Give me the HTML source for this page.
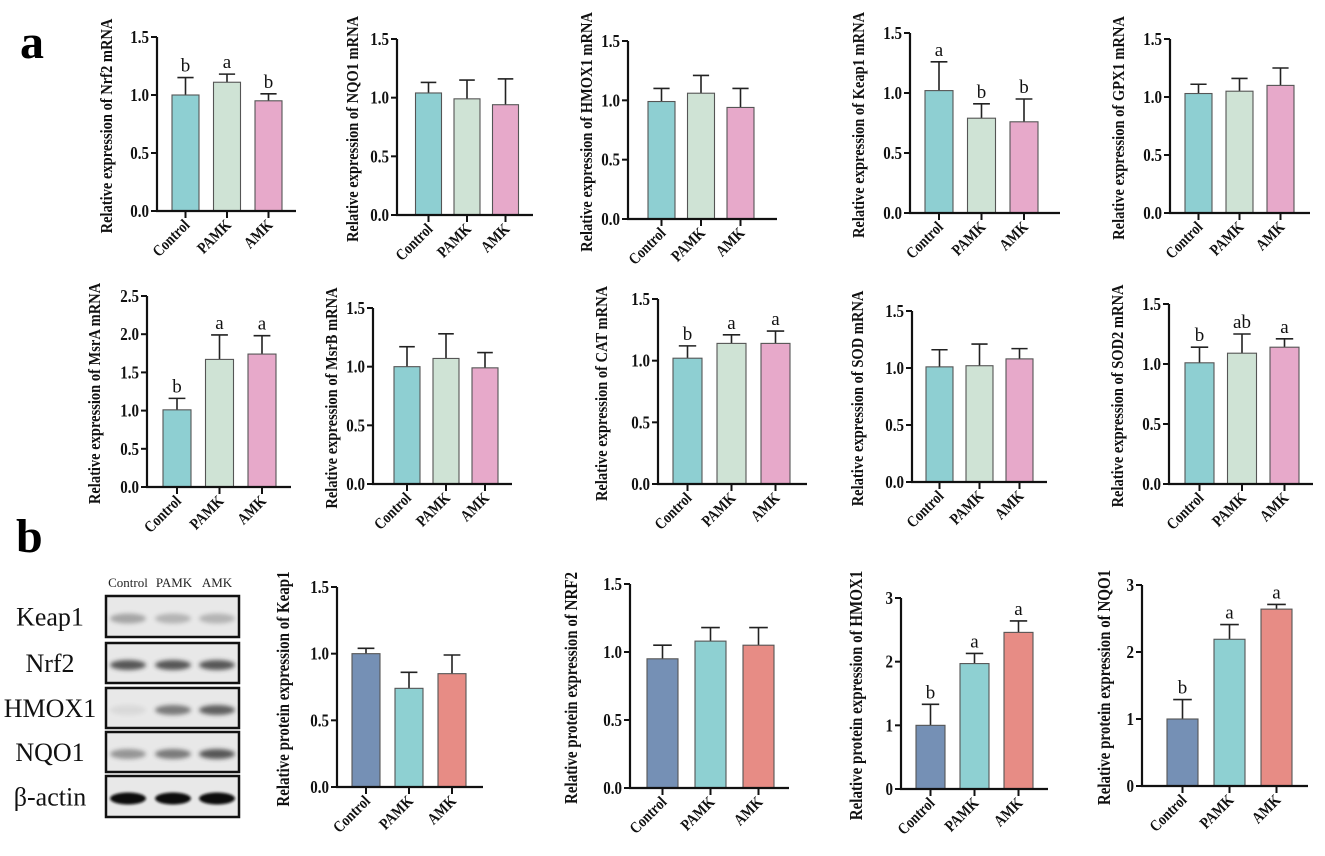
<!DOCTYPE html>
<html><head><meta charset="utf-8">
<style>
html,body{margin:0;padding:0;background:#fff;}
svg{display:block;font-family:"Liberation Serif","DejaVu Serif",serif;}
</style></head>
<body>
<svg id="fig" width="1325" height="856" viewBox="0 0 1325 856" xmlns="http://www.w3.org/2000/svg">
<defs>
<filter id="blur2" x="-20%" y="-50%" width="140%" height="200%"><feGaussianBlur stdDeviation="2.2"/></filter>
<filter id="blur1" x="-20%" y="-50%" width="140%" height="200%"><feGaussianBlur stdDeviation="1.2"/></filter>
</defs>
<text x="20" y="58" font-size="48" font-weight="bold">a</text>
<text x="16" y="552" font-size="48" font-weight="bold">b</text>
<g id="blot"></g>
<g id="charts"></g>
</svg>
<script>
const categories = ["Control","PAMK","AMK"];
// mRNA panels
const nrf2Vals=[1.00,1.11,0.95], nrf2Err=[0.15,0.07,0.06], nrf2Let=["b","a","b"];
const nqo1Vals=[1.04,0.99,0.94], nqo1Err=[0.09,0.16,0.22], nqo1Let=["","",""];
const hmox1Vals=[0.99,1.06,0.94], hmox1Err=[0.11,0.15,0.16], hmox1Let=["","",""];
const keap1Vals=[1.02,0.79,0.76], keap1Err=[0.24,0.12,0.19], keap1Let=["a","b","b"];
const gpx1Vals=[1.03,1.05,1.10], gpx1Err=[0.08,0.11,0.15], gpx1Let=["","",""];
const msraVals=[1.01,1.67,1.74], msraErr=[0.15,0.32,0.24], msraLet=["b","a","a"];
const msrbVals=[1.00,1.07,0.99], msrbErr=[0.17,0.21,0.13], msrbLet=["","",""];
const catVals=[1.02,1.14,1.14], catErr=[0.10,0.07,0.10], catLet=["b","a","a"];
const sodVals=[1.01,1.02,1.08], sodErr=[0.15,0.19,0.09], sodLet=["","",""];
const sod2Vals=[1.01,1.09,1.14], sod2Err=[0.13,0.16,0.07], sod2Let=["b","ab","a"];
// protein panels
const keap1pVals=[1.00,0.74,0.85], keap1pErr=[0.04,0.12,0.14], keap1pLet=["","",""];
const nrf2pVals=[0.95,1.08,1.05], nrf2pErr=[0.10,0.10,0.13], nrf2pLet=["","",""];
const hmox1pVals=[1.00,1.97,2.46], hmox1pErr=[0.33,0.16,0.18], hmox1pLet=["b","a","a"];
const nqo1pVals=[1.00,2.19,2.64], nqo1pErr=[0.29,0.22,0.07], nqo1pLet=["b","a","a"];
const ticks15=["0.0","0.5","1.0","1.5"], ticks25=["0.0","0.5","1.0","1.5","2.0","2.5"], ticks3=["0","1","2","3"];

const mColors=["#8ecfd2","#cfe3d5","#e7a9ca"];
const pColors=["#7590b5","#8ed0d2","#e78c85"];
const NS="http://www.w3.org/2000/svg";
function mk(tag,attrs,parent){const e=document.createElementNS(NS,tag);for(const k in attrs)e.setAttribute(k,attrs[k]);parent.appendChild(e);return e;}
function tall(t,fs){const L=t.getComputedTextLength();t.setAttribute('font-size',fs);t.setAttribute('textLength',L);t.setAttribute('lengthAdjust','spacingAndGlyphs');}

// layout (positions only)
const panels=[
 {id:"nrf2",t:"Relative expression of Nrf2 mRNA",v:nrf2Vals,e:nrf2Err,l:nrf2Let,ticks:ticks15,ax:157,y0:211,yt:37,c0:185.5,st:41.5,bw:27,end:296,tx:112,col:mColors},
 {id:"nqo1",t:"Relative expression of NQO1 mRNA",v:nqo1Vals,e:nqo1Err,l:nqo1Let,ticks:ticks15,ax:397,y0:215,yt:39,c0:428.5,st:38.5,bw:26,end:533,tx:358,col:mColors},
 {id:"hmox1",t:"Relative expression of HMOX1 mRNA",v:hmox1Vals,e:hmox1Err,l:hmox1Let,ticks:ticks15,ax:628,y0:219,yt:41,c0:661.5,st:39.5,bw:27,end:777,tx:592,col:mColors},
 {id:"keap1",t:"Relative expression of Keap1 mRNA",v:keap1Vals,e:keap1Err,l:keap1Let,ticks:ticks15,ax:910,y0:213,yt:33,c0:939,st:42.5,bw:28,end:1060,tx:864,col:mColors},
 {id:"gpx1",t:"Relative expression of GPX1 mRNA",v:gpx1Vals,e:gpx1Err,l:gpx1Let,ticks:ticks15,ax:1170,y0:213,yt:39,c0:1198.5,st:41,bw:27,end:1310,tx:1124,col:mColors},
 {id:"msra",t:"Relative expression of MsrA mRNA",v:msraVals,e:msraErr,l:msraLet,ticks:ticks25,ax:147,y0:487,yt:296,c0:177,st:42.5,bw:28,end:291,tx:100,col:mColors},
 {id:"msrb",t:"Relative expression of MsrB mRNA",v:msrbVals,e:msrbErr,l:msrbLet,ticks:ticks15,ax:373,y0:484,yt:308,c0:407,st:39,bw:26,end:512,tx:337,col:mColors},
 {id:"cat",t:"Relative expression of CAT mRNA",v:catVals,e:catErr,l:catLet,ticks:ticks15,ax:658,y0:484,yt:299,c0:687.5,st:44,bw:29,end:807,tx:607,col:mColors},
 {id:"sod",t:"Relative expression of SOD mRNA",v:sodVals,e:sodErr,l:sodLet,ticks:ticks15,ax:912,y0:482,yt:311,c0:939.5,st:40,bw:27,end:1047,tx:863,col:mColors},
 {id:"sod2",t:"Relative expression of SOD2 mRNA",v:sod2Vals,e:sod2Err,l:sod2Let,ticks:ticks15,ax:1169,y0:484,yt:304,c0:1199.5,st:42.5,bw:29,end:1313,tx:1123,col:mColors},
 {id:"keap1-protein",t:"Relative protein expression of Keap1",v:keap1pVals,e:keap1pErr,l:keap1pLet,ticks:ticks15,ax:337,y0:787,yt:587,c0:366,st:43,bw:28,end:483,tx:289,col:pColors,fs:15},
 {id:"nrf2-protein",t:"Relative protein expression of NRF2",v:nrf2pVals,e:nrf2pErr,l:nrf2pLet,ticks:ticks15,ax:630,y0:788,yt:584,c0:662.5,st:48,bw:31,end:789,tx:577,col:pColors,fs:15},
 {id:"hmox1-protein",t:"Relative protein expression of HMOX1",v:hmox1pVals,e:hmox1pErr,l:hmox1pLet,ticks:ticks3,ax:901,y0:789,yt:598,c0:930.5,st:44,bw:29,end:1048,tx:862,col:pColors,fs:15},
 {id:"nqo1-protein",t:"Relative protein expression of NQO1",v:nqo1pVals,e:nqo1pErr,l:nqo1pLet,ticks:ticks3,ax:1142,y0:786,yt:585,c0:1182.5,st:47,bw:31,end:1308,tx:1110,col:pColors,fs:15}
];

const root=document.getElementById("charts");
panels.forEach(p=>{
  const g=mk("g",{},root);
  
  
  const ymax=parseFloat(p.ticks[p.ticks.length-1]);
  const y=v=>p.y0-(v/ymax)*(p.y0-p.yt);
  const x=i=>p.c0+i*p.st;
  p.v.forEach((v,i)=>{
    const top=y(v+p.e[i]);
    const eb=mk("g",{stroke:"#222","stroke-width":1.6},g);
    
    
    mk("line",{x1:x(i),x2:x(i),y1:y(v),y2:top},eb);
    mk("line",{x1:x(i)-p.bw*0.3,x2:x(i)+p.bw*0.3,y1:top,y2:top},eb);
    const r=mk("rect",{x:x(i)-p.bw/2,y:y(v),width:p.bw,height:p.y0-y(v),fill:p.col[i],stroke:"#555","stroke-width":1.1},g);
    
    
    if(p.l[i]){
      const t=mk("text",{x:x(i),y:top-6,"font-size":19,"text-anchor":"middle",fill:"#111"},g);
      t.textContent=p.l[i];
      
      
    }
  });
  const ya=mk("line",{x1:p.ax,x2:p.ax,y1:p.yt,y2:p.y0+1,stroke:"#111","stroke-width":2.2},g);
  
  
  const xa=mk("line",{x1:p.ax-1,x2:p.end,y1:p.y0,y2:p.y0,stroke:"#111","stroke-width":2.2},g);
  
  
  p.ticks.forEach(tk=>{
    const v=parseFloat(tk);
    mk("line",{x1:p.ax-6,x2:p.ax,y1:y(v),y2:y(v),stroke:"#111","stroke-width":2},g);
    const t=mk("text",{x:p.ax-8,y:y(v)+6,"font-size":15,"font-weight":"bold","text-anchor":"end",fill:"#111"},g);
    t.textContent=tk;
    
    
    tall(t,17.5);
  });
  categories.forEach((c,i)=>{
    mk("line",{x1:x(i),x2:x(i),y1:p.y0,y2:p.y0+7,stroke:"#111","stroke-width":2},g);
    const t=mk("text",{x:x(i)+5,y:p.y0+15,"font-size":13.5,"font-weight":"bold","text-anchor":"end",fill:"#111",transform:`rotate(-45 ${x(i)+5} ${p.y0+15})`},g);
    t.textContent=c;
    
    
    tall(t,16);
  });
  const cy=(p.yt+p.y0)/2+2;
  const tt=mk("text",{x:p.tx,y:cy,"font-size":p.fs||14.5,"font-weight":"bold","text-anchor":"middle",fill:"#111",transform:`rotate(-90 ${p.tx} ${cy})`},g);
  tt.textContent=p.t;
  
  
  tall(tt,(p.fs||14.5)*1.18);
});

// western blot
const blot=document.getElementById("blot");
const hdr=[["Control",128],["PAMK",174],["AMK",217]];
hdr.forEach(h=>{const t=mk("text",{x:h[1],y:587,"font-size":13,"text-anchor":"middle",fill:"#222"},blot);t.textContent=h[0];
 
 });
const rows=[["Keap1",596,637,[0.45,0.35,0.35],"#555"],["Nrf2",643,683,[0.8,0.8,0.8],"#333"],["HMOX1",688,728,[0.08,0.6,0.75],"#333"],["NQO1",732,772,[0.45,0.6,0.8],"#333"],["β-actin",776,817,[1,1,1],"#111"]];
const lanes=[128,173,217];
rows.forEach(r=>{
  const g=mk("g",{},blot);
  
  
  const t=mk("text",{x:50,y:(r[1]+r[2])/2+9,"font-size":26,"text-anchor":"middle",fill:"#111"},g);t.textContent=r[0];
  
  
  mk("rect",{x:106,y:r[1],width:133,height:r[2]-r[1],fill:"#e8e8e8",stroke:"#111","stroke-width":2.5},g);
  lanes.forEach((lx,i)=>{
    const o=r[3][i];
    mk("ellipse",{cx:lx,cy:(r[1]+r[2])/2+2,rx:18,ry:r[0]==="β-actin"?6:5,fill:r[4],opacity:o,filter:r[0]==="β-actin"?"url(#blur1)":"url(#blur2)"},g);
  });
});
</script>
</body></html>
